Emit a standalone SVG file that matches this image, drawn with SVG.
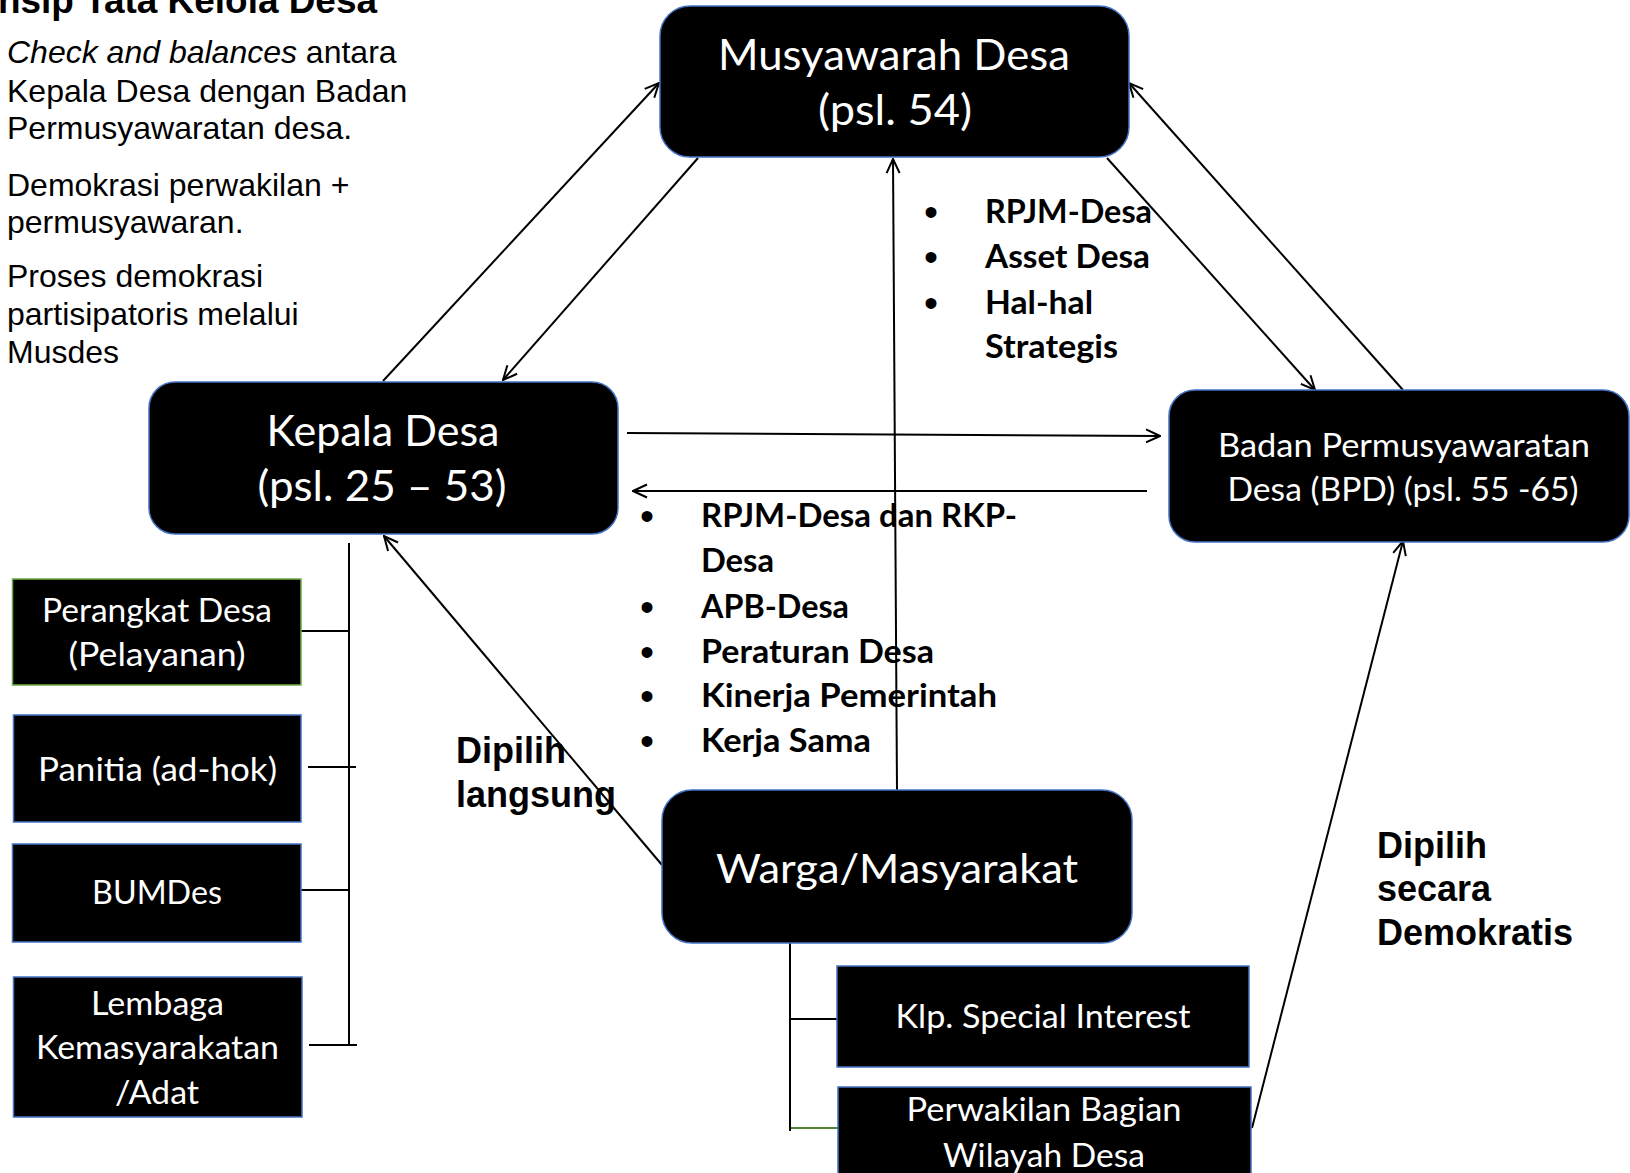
<svg xmlns="http://www.w3.org/2000/svg" width="1630" height="1173" viewBox="0 0 1630 1173">
<defs>
<style>
.bg{fill:#fff}
.rb{fill:#000;stroke:#4472C4;stroke-width:1.5}
.gb{fill:#000;stroke:#70AD47;stroke-width:1.5}
.nt{fill:#fff;font-family:Lato,"Liberation Sans",sans-serif;text-anchor:middle}
.bl{fill:#000;font-family:Lato,"Liberation Sans",sans-serif;font-weight:bold;font-size:32px}
.bu{fill:#000;font-family:"Liberation Sans",Arial,sans-serif;font-size:40px;text-anchor:middle}
.ar{fill:#000;font-family:"Liberation Sans",Arial,sans-serif;font-size:32px}
.arb{fill:#000;font-family:"Liberation Sans",Arial,sans-serif;font-size:36px;font-weight:bold}
.ln{stroke:#000;stroke-width:2;fill:none}
.la{stroke:#000;stroke-width:2;fill:none;marker-end:url(#arr)}
</style>
<marker id="arr" viewBox="0 0 16 16" refX="15" refY="8" markerWidth="16" markerHeight="16" markerUnits="userSpaceOnUse" orient="auto">
<path d="M1,1.5 L15,8 L1,14.5" fill="none" stroke="#000" stroke-width="2"/>
</marker>
</defs>
<rect class="bg" x="0" y="0" width="1630" height="1173"/>

<g id="intro">
<text class="arb" x="-2" y="13" font-size="37" textLength="379" lengthAdjust="spacingAndGlyphs">nsip Tata Kelola Desa</text>
<text class="ar" x="7" y="63"><tspan font-style="italic">Check and balances</tspan> antara</text>
<text class="ar" x="7" y="102">Kepala Desa dengan Badan</text>
<text class="ar" x="7" y="139">Permusyawaratan desa.</text>
<text class="ar" x="7" y="196">Demokrasi perwakilan +</text>
<text class="ar" x="7" y="233">permusyawaran.</text>
<text class="ar" x="7" y="287">Proses demokrasi</text>
<text class="ar" x="7" y="325">partisipatoris melalui</text>
<text class="ar" x="7" y="363">Musdes</text>
</g>

<g id="connectors">
<line class="la" x1="383" y1="381" x2="659" y2="83"/>
<line class="la" x1="698" y1="158" x2="503" y2="380"/>
<line class="la" x1="1107" y1="158" x2="1315" y2="390"/>
<line class="la" x1="1403" y1="390" x2="1129" y2="83"/>
<line class="la" x1="627" y1="433" x2="1160" y2="436"/>
<line class="la" x1="1147" y1="491" x2="633" y2="491"/>
<line class="la" x1="897" y1="790" x2="893" y2="159"/>
<line class="la" x1="662" y1="865" x2="384" y2="536"/>
<line class="la" x1="1252" y1="1128" x2="1403" y2="541"/>
<line class="ln" x1="349" y1="543" x2="349" y2="1046"/>
<line class="ln" x1="301" y1="631" x2="350" y2="631"/>
<line class="ln" x1="308" y1="767" x2="356" y2="767"/>
<line class="ln" x1="301" y1="890" x2="350" y2="890"/>
<line class="ln" x1="309" y1="1045" x2="357" y2="1045"/>
<line class="ln" x1="790" y1="943" x2="790" y2="1131"/>
<line class="ln" x1="790" y1="1019" x2="837" y2="1019"/>
<line x1="791" y1="1128" x2="840" y2="1128" stroke="#548235" stroke-width="2"/>
</g>

<g id="musyawarah">
<rect class="rb" x="660" y="6" width="469" height="151" rx="30"/>
<text class="nt" x="894" y="70" font-size="42" textLength="352" lengthAdjust="spacingAndGlyphs">Musyawarah Desa</text>
<text class="nt" x="895" y="125" font-size="42" textLength="154" lengthAdjust="spacingAndGlyphs">(psl. 54)</text>
</g>

<g id="kepala">
<rect class="rb" x="149" y="382" width="469" height="152" rx="26"/>
<text class="nt" x="383" y="446" font-size="42" textLength="233" lengthAdjust="spacingAndGlyphs">Kepala Desa</text>
<text class="nt" x="382" y="501" font-size="42" textLength="249" lengthAdjust="spacingAndGlyphs">(psl. 25 – 53)</text>
</g>

<g id="bpd">
<rect class="rb" x="1169" y="390" width="460" height="152" rx="26"/>
<text class="nt" x="1404" y="457" font-size="33" textLength="372" lengthAdjust="spacingAndGlyphs">Badan Permusyawaratan</text>
<text class="nt" x="1403" y="501" font-size="33" textLength="351" lengthAdjust="spacingAndGlyphs">Desa (BPD) (psl. 55 -65)</text>
</g>

<g id="warga">
<rect class="rb" x="662" y="790" width="470" height="153" rx="30"/>
<text class="nt" x="897" y="883" font-size="40" textLength="362" lengthAdjust="spacingAndGlyphs">Warga/Masyarakat</text>
</g>

<g id="perangkat">
<rect class="gb" x="12.5" y="579" width="288.5" height="106"/>
<text class="nt" x="157" y="622" font-size="32" textLength="230" lengthAdjust="spacingAndGlyphs">Perangkat Desa</text>
<text class="nt" x="157" y="666" font-size="32" textLength="177" lengthAdjust="spacingAndGlyphs">(Pelayanan)</text>
</g>

<g id="panitia">
<rect class="rb" x="13.5" y="715" width="287.5" height="107"/>
<text class="nt" x="157.5" y="781" font-size="32" textLength="239" lengthAdjust="spacingAndGlyphs">Panitia (ad-hok)</text>
</g>

<g id="bumdes">
<rect class="rb" x="12.5" y="844" width="288.5" height="98"/>
<text class="nt" x="157" y="904" font-size="32" textLength="130" lengthAdjust="spacingAndGlyphs">BUMDes</text>
</g>

<g id="lembaga">
<rect class="rb" x="13.5" y="977" width="288.5" height="140"/>
<text class="nt" x="157.5" y="1015" font-size="32" textLength="133" lengthAdjust="spacingAndGlyphs">Lembaga</text>
<text class="nt" x="157.5" y="1059" font-size="32" textLength="243" lengthAdjust="spacingAndGlyphs">Kemasyarakatan</text>
<text class="nt" x="157" y="1104" font-size="32" textLength="84" lengthAdjust="spacingAndGlyphs">/Adat</text>
</g>

<g id="klp">
<rect class="rb" x="837" y="966" width="412" height="101"/>
<text class="nt" x="1043" y="1028" font-size="32" textLength="295" lengthAdjust="spacingAndGlyphs">Klp. Special Interest</text>
</g>

<g id="perwakilan">
<rect class="rb" x="838" y="1087" width="413" height="100"/>
<text class="nt" x="1044" y="1121" font-size="32" textLength="275" lengthAdjust="spacingAndGlyphs">Perwakilan Bagian</text>
<text class="nt" x="1044" y="1167" font-size="32" textLength="202" lengthAdjust="spacingAndGlyphs">Wilayah Desa</text>
</g>

<g id="musdes-topics">
<text class="bu" x="931" y="226">•</text>
<text class="bu" x="931" y="271">•</text>
<text class="bu" x="931" y="317">•</text>
<text class="bl" x="985" y="223" textLength="167" lengthAdjust="spacingAndGlyphs">RPJM-Desa</text>
<text class="bl" x="985" y="268" textLength="165" lengthAdjust="spacingAndGlyphs">Asset Desa</text>
<text class="bl" x="985" y="314" textLength="108" lengthAdjust="spacingAndGlyphs">Hal-hal</text>
<text class="bl" x="985" y="358" textLength="133" lengthAdjust="spacingAndGlyphs">Strategis</text>
</g>

<g id="kades-bpd-topics">
<text class="bu" x="647" y="530">•</text>
<text class="bu" x="647" y="621">•</text>
<text class="bu" x="647" y="666">•</text>
<text class="bu" x="647" y="710">•</text>
<text class="bu" x="647" y="755">•</text>
<text class="bl" x="701" y="527" textLength="316" lengthAdjust="spacingAndGlyphs">RPJM-Desa dan RKP-</text>
<text class="bl" x="701" y="572" textLength="73" lengthAdjust="spacingAndGlyphs">Desa</text>
<text class="bl" x="701" y="618" textLength="148" lengthAdjust="spacingAndGlyphs">APB-Desa</text>
<text class="bl" x="701" y="663" textLength="233" lengthAdjust="spacingAndGlyphs">Peraturan Desa</text>
<text class="bl" x="701" y="707" textLength="296" lengthAdjust="spacingAndGlyphs">Kinerja Pemerintah</text>
<text class="bl" x="701" y="752" textLength="170" lengthAdjust="spacingAndGlyphs">Kerja Sama</text>
</g>

<g id="label-langsung">
<text class="arb" x="456" y="763">Dipilih</text>
<text class="arb" x="456" y="807">langsung</text>
</g>

<g id="label-demokratis">
<text class="arb" x="1377" y="858">Dipilih</text>
<text class="arb" x="1377" y="901">secara</text>
<text class="arb" x="1377" y="945">Demokratis</text>
</g>
</svg>
